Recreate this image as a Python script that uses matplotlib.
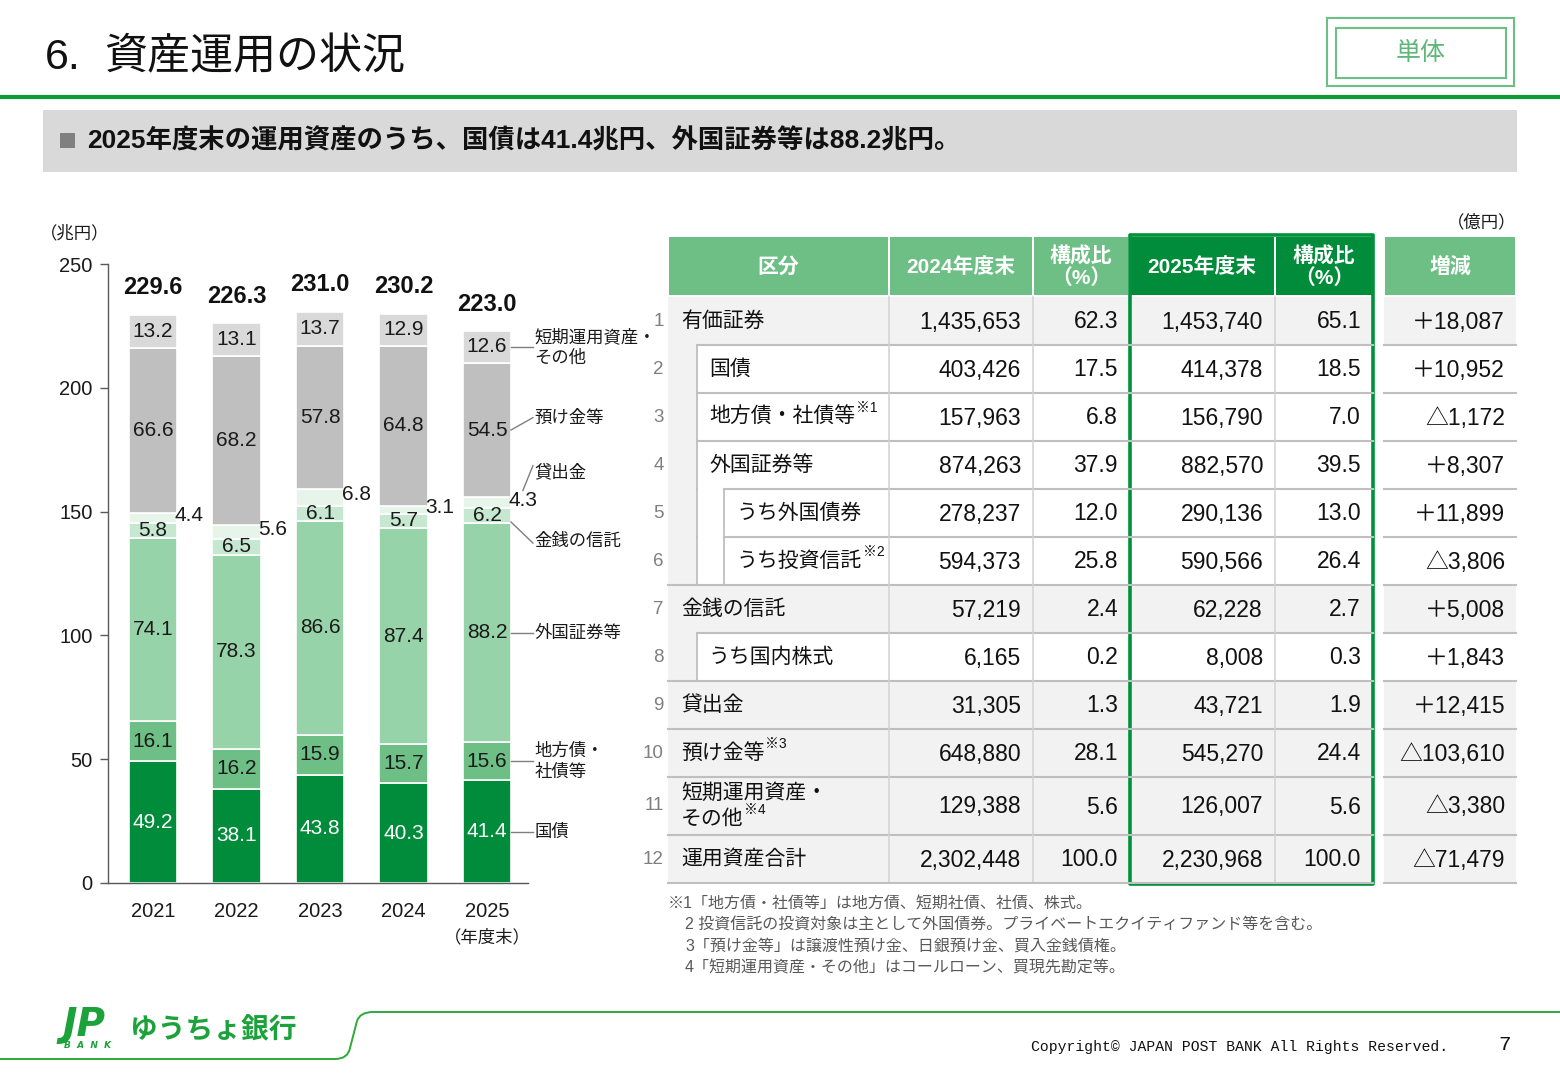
import matplotlib
matplotlib.use('Agg')
import matplotlib.pyplot as plt
from matplotlib.patches import Rectangle, PathPatch
from matplotlib.path import Path

plt.rcParams['font.family'] = ['Liberation Sans', 'Noto Sans CJK JP', 'DejaVu Sans']

# ---------------- chart data (兆円) ----------------
years = ['2021', '2022', '2023', '2024', '2025']
kokusai = [49.2, 38.1, 43.8, 40.3, 41.4]          # 国債
chihousai = [16.1, 16.2, 15.9, 15.7, 15.6]        # 地方債・社債等
gaikoku = [74.1, 78.3, 86.6, 87.4, 88.2]          # 外国証券等
kinsen = [5.8, 6.5, 6.1, 5.7, 6.2]                # 金銭の信託
kashidashi = [4.4, 5.6, 6.8, 3.1, 4.3]            # 貸出金
azuke = [66.6, 68.2, 57.8, 64.8, 54.5]            # 預け金等
tanki = [13.2, 13.1, 13.7, 12.9, 12.6]            # 短期運用資産・その他
totals = [229.6, 226.3, 231.0, 230.2, 223.0]
series_names = ['国債', '地方債・\n社債等', '外国証券等', '金銭の信託', '貸出金', '預け金等', '短期運用資産・\nその他']

# ---------------- table data (億円) ----------------
row_labels = ['有価証券', '国債', '地方債・社債等', '外国証券等', 'うち外国債券', 'うち投資信託',
              '金銭の信託', 'うち国内株式', '貸出金', '預け金等', '短期運用資産・\nその他', '運用資産合計']
row_levels = [0, 1, 1, 1, 2, 2, 0, 1, 0, 0, 0, 0]
row_notes = ['', '', '※1', '', '', '※2', '', '', '', '※3', '※4', '']
fy2024 = [1435653, 403426, 157963, 874263, 278237, 594373, 57219, 6165, 31305, 648880, 129388, 2302448]
ratio2024 = [62.3, 17.5, 6.8, 37.9, 12.0, 25.8, 2.4, 0.2, 1.3, 28.1, 5.6, 100.0]
fy2025 = [1453740, 414378, 156790, 882570, 290136, 590566, 62228, 8008, 43721, 545270, 126007, 2230968]
ratio2025 = [65.1, 18.5, 7.0, 39.5, 13.0, 26.4, 2.7, 0.3, 1.9, 24.4, 5.6, 100.0]
change = [18087, 10952, -1172, 8307, 11899, -3806, 5008, 1843, 12415, -103610, -3380, -71479]
headers = ['区分', '2024年度末', '構成比\n（%）', '2025年度末', '構成比\n（%）', '増減']
footnotes = ['※1「地方債・社債等」は地方債、短期社債、社債、株式。',
             '2 投資信託の投資対象は主として外国債券。プライベートエクイティファンド等を含む。',
             '3「預け金等」は譲渡性預け金、日銀預け金、買入金銭債権。',
             '4「短期運用資産・その他」はコールローン、買現先勘定等。']

GREEN = '#008C3A'
MID = '#6DBF86'
seg_colors = [GREEN, MID, '#97D3A9', '#C6E7D0', '#E6F4EA', '#BFBFBF', '#D9D9D9']
seg_text = ['white', '#1a1a1a', '#1a1a1a', '#1a1a1a', '#1a1a1a', '#1a1a1a', '#1a1a1a']

fig = plt.figure(figsize=(15.6, 10.8), dpi=100)
ax0 = fig.add_axes([0, 0, 1, 1])
ax0.set_xlim(0, 1560)
ax0.set_ylim(1080, 0)
ax0.axis('off')

# ---------------- header ----------------
ax0.text(45, 58, '6.', fontsize=31, va='center', ha='left', color='#111111')
ax0.text(104, 58, '資産運用の状況', fontsize=31, va='center', ha='left', color='#111111')
ax0.plot([0, 1560], [97, 97], color='#0E9A34', lw=3, solid_capstyle='butt')
ax0.add_patch(Rectangle((1327, 18), 187, 68, fill=False, ec=MID, lw=1.5))
ax0.add_patch(Rectangle((1336, 28), 170, 50, fill=False, ec=MID, lw=1.5))
ax0.text(1421, 53, '単体', fontsize=18, ha='center', va='center', color='#5DB878')
ax0.add_patch(Rectangle((43, 110), 1474, 62, color='#D9D9D9', lw=0))
ax0.add_patch(Rectangle((60, 133), 15, 15, color='#808080', lw=0))
ax0.text(87, 141, '2025年度末の運用資産のうち、国債は41.4兆円、外国証券等は88.2兆円。',
         fontsize=19, fontweight='bold', va='center', ha='left', color='#111111')

# ---------------- stacked bar chart ----------------
ax = fig.add_axes([108 / 1560, (1080 - 883) / 1080, 420 / 1560, 619 / 1080])
ax.patch.set_alpha(0)
stack = [kokusai, chihousai, gaikoku, kinsen, kashidashi, azuke, tanki]
xs = list(range(len(years)))
W = 0.575
bottoms = [0.0] * len(years)
centers = []
for k, vals in enumerate(stack):
    ax.bar(xs, vals, bottom=bottoms, width=W, color=seg_colors[k], edgecolor='white', linewidth=1.2, zorder=2)
    cs = []
    for i, v in enumerate(vals):
        c = bottoms[i] + v / 2
        cs.append(c)
        if k == 4:
            ax.text(i + 0.26, c + 1.0, f'{v:.1f}', ha='left', va='center', fontsize=15, color='#1a1a1a', zorder=3)
        else:
            ax.text(i, c, f'{v:.1f}', ha='center', va='center', fontsize=15, color=seg_text[k], zorder=3)
    centers.append(cs)
    bottoms = [b + v for b, v in zip(bottoms, vals)]
for i, t in enumerate(totals):
    ax.text(i, bottoms[i] + 11, f'{t:.1f}', ha='center', va='center', fontsize=17, fontweight='bold', color='#111111')

ax.set_xlim(-0.539, 4.491)
ax.set_ylim(0, 250)
ax.set_yticks([0, 50, 100, 150, 200, 250])
ax.set_xticks(xs)
ax.set_xticklabels(years)
ax.tick_params(axis='y', direction='out', length=6, width=1, color='#595959', labelsize=14.5, pad=5, labelcolor='#1a1a1a')
ax.tick_params(axis='x', length=0, labelsize=14.5, pad=14, labelcolor='#1a1a1a')
for s in ['top', 'right']:
    ax.spines[s].set_visible(False)
for s in ['left', 'bottom']:
    ax.spines[s].set_color('#595959')
    ax.spines[s].set_linewidth(1)

# callouts on the 2025 bar
last = len(years) - 1
xr = last + W / 2
xe = last + 0.55
xt = last + 0.57
# (series index, line y start offset, line y end offset, label offset)
callout = [(0, 0, 0, 0), (1, 0, 0, 0), (2, 0, 0, 0), (3, -2.5, -11, -10),
           (4, 5, 15, 12.5), (5, 0, 5, 5), (6, 0, 0, 0)]
for k, a, b, lo in callout:
    c = centers[k][last]
    x0 = xr if k != 4 else last + 0.43
    ax.plot([x0, xe], [c + a, c + b], color='#7F7F7F', lw=1, clip_on=False)
    ax.text(xt, c + lo, series_names[k], ha='left', va='center', fontsize=12.5,
            color='#1a1a1a', clip_on=False, linespacing=1.35)

ax0.text(75, 233, '（兆円）', fontsize=12.5, ha='center', va='center', color='#1a1a1a')
ax0.text(487, 937, '（年度末）', fontsize=12.5, ha='center', va='center', color='#1a1a1a')

# ---------------- table ----------------
LX = 668
col_edges = [668, 889, 1033, 1129, 1275, 1373]
inc_edges = [1384, 1516]
right_pos = [1021, 1118, 1263, 1361, 1505]
HT, HB = 237, 297
heights = [48] * 10 + [58, 48]
tops = [HB]
for h in heights:
    tops.append(tops[-1] + h)
GRAY = '#F2F2F2'
LINE = '#BFBFBF'
indent = [668, 697, 724]

# header cells
hcols = [(col_edges[0], col_edges[1], MID), (col_edges[1], col_edges[2], MID), (col_edges[2], col_edges[3], MID),
         (col_edges[3], col_edges[4], GREEN), (col_edges[4], col_edges[5], GREEN), (inc_edges[0], inc_edges[1], MID)]
for j, (a, b, colr) in enumerate(hcols):
    ax0.add_patch(Rectangle((a + 1, HT), b - a - 2, HB - HT - 2, color=colr, lw=0))
    ax0.text((a + b) / 2, (HT + HB) / 2, headers[j], ha='center', va='center', fontsize=15,
             fontweight='bold', color='white', linespacing=1.1)

for i in range(len(row_labels)):
    y0, y1 = tops[i], tops[i + 1]
    lvl = row_levels[i]
    is_gray = lvl == 0
    if is_gray:
        ax0.add_patch(Rectangle((LX, y0), col_edges[-1] - LX, y1 - y0, color=GRAY, lw=0))
        ax0.add_patch(Rectangle((inc_edges[0], y0), inc_edges[1] - inc_edges[0], y1 - y0, color=GRAY, lw=0))
    else:
        ax0.add_patch(Rectangle((LX, y0), indent[1] - LX, y1 - y0, color=GRAY, lw=0))
        ax0.plot([indent[1], indent[1]], [y0, y1], color=LINE, lw=1.3)
        if lvl == 2:
            ax0.plot([indent[2], indent[2]], [y0, y1], color=LINE, lw=1.3)
    # column separators
    for xv in [col_edges[1], col_edges[2], col_edges[4]]:
        ax0.plot([xv, xv], [y0, y1], color='#D4D4D4', lw=1.2)
    # bottom line
    nxt = row_levels[i + 1] if i + 1 < len(row_labels) else 0
    ax0.plot([indent[nxt], col_edges[-1]], [y1, y1], color=LINE, lw=1.5)
    ax0.plot(inc_edges, [y1, y1], color=LINE, lw=1.5)
    yc = (y0 + y1) / 2
    # row number
    ax0.text(664, yc, str(i + 1), ha='right', va='center', fontsize=13.5, color='#7F7F7F')
    # label
    lx = 681 + 28 * lvl
    lines = row_labels[i].split('\n')
    n = len(lines)
    t = None
    for m, ln in enumerate(lines):
        ty = yc + (m - (n - 1) / 2) * 26
        t = ax0.text(lx, ty, ln, ha='left', va='center', fontsize=15, color='#111111')
    if row_notes[i]:
        ax0.annotate(row_notes[i], xy=(1, 0.62), xycoords=t, xytext=(0.5, 0), textcoords='offset points',
                     ha='left', va='bottom', fontsize=10, color='#111111')
    vals = [f'{fy2024[i]:,}', f'{ratio2024[i]:.1f}', f'{fy2025[i]:,}', f'{ratio2025[i]:.1f}',
            ('＋' if change[i] > 0 else '△') + f'{abs(change[i]):,}']
    for xv, s in zip(right_pos, vals):
        ax0.text(xv, yc + 1, s, ha='right', va='center', fontsize=16.5, color='#111111')

# highlight box around 2025 columns
ax0.add_patch(Rectangle((col_edges[3] + 1, HT - 2), col_edges[5] - col_edges[3] - 1, tops[-1] - HT + 3,
                        fill=False, ec='#00913A', lw=2.6, joinstyle='round'))

ax0.text(1516, 222, '（億円）', fontsize=12.5, ha='right', va='center', color='#1a1a1a')

for k, fn in enumerate(footnotes):
    ax0.text(668 if k == 0 else 685, 903 + k * 21.7, fn, fontsize=11.5, ha='left', va='center', color='#595959')

# ---------------- footer ----------------
verts = [(0, 1059), (335, 1059), (348, 1059), (350, 1048), (357, 1021), (360, 1012), (373, 1012), (1560, 1012)]
codes = [Path.MOVETO, Path.LINETO, Path.CURVE3, Path.CURVE3, Path.LINETO, Path.CURVE3, Path.CURVE3, Path.LINETO]
ax0.add_patch(PathPatch(Path(verts, codes), fill=False, ec='#2EAA3A', lw=1.4))
ax0.text(62, 1025, 'JP', fontsize=28, fontweight='heavy', fontstyle='italic', color='#1BA23A',
         ha='left', va='center', family=['DejaVu Sans'])
ax0.text(64, 1046, 'B  A  N  K', fontsize=6.5, fontweight='bold', fontstyle='italic', color='#1BA23A',
         ha='left', va='center', family=['DejaVu Sans'])
ax0.text(130, 1030, 'ゆうちょ銀行', fontsize=20, fontweight='bold', color='#1BA23A', ha='left', va='center',
         family=['Noto Sans CJK JP'])
ax0.text(1448, 1047, 'Copyright© JAPAN POST BANK All Rights Reserved.', fontsize=10.6, ha='right', va='center',
         color='#111111', family=['Liberation Mono'])
ax0.text(1505, 1044, '7', fontsize=15, ha='center', va='center', color='#111111', family=['Liberation Mono'])

fig.savefig('out.png', dpi=100, facecolor='white')
